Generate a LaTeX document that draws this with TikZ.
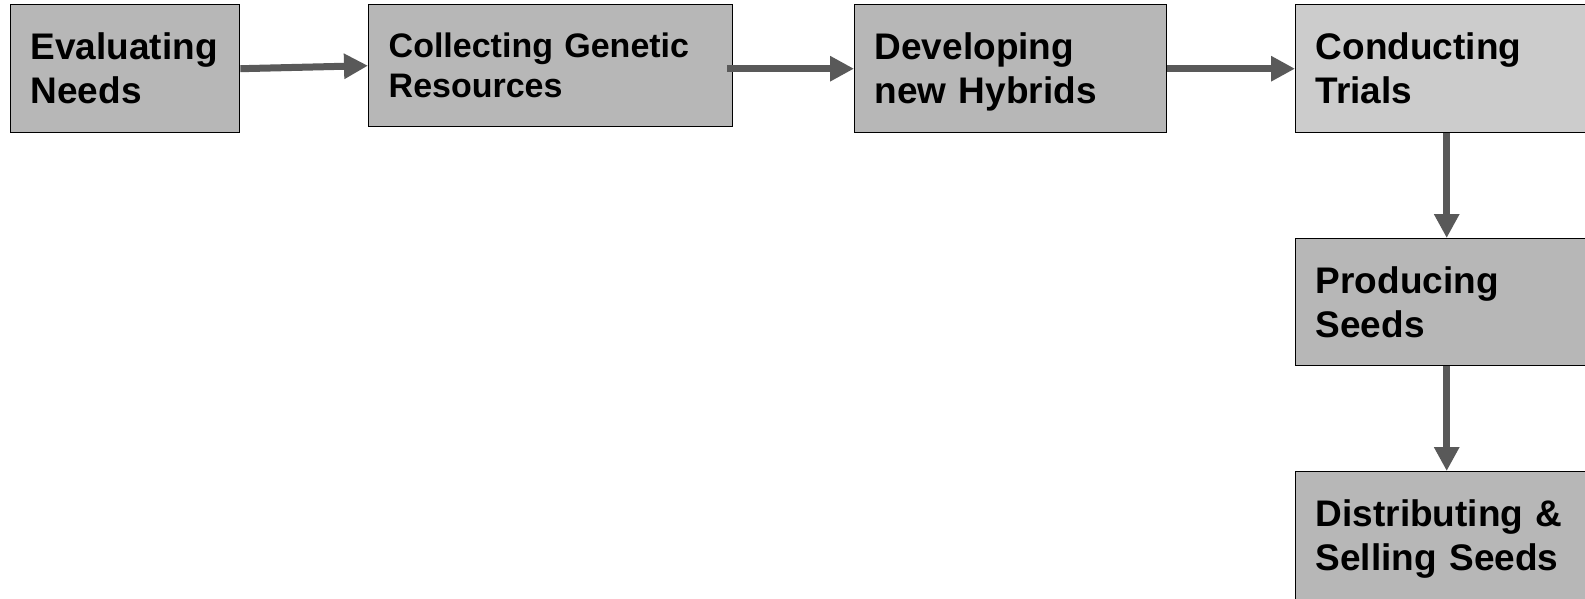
\documentclass[tikz,border=0pt]{standalone}
\usepackage{fontspec}
\setmainfont{Liberation Sans}
\usetikzlibrary{arrows.meta}
\definecolor{boxfill}{HTML}{B7B7B7}
\definecolor{boxlight}{HTML}{CCCCCC}
\definecolor{arrowgray}{HTML}{595959}
\tikzset{
  stepbox/.style={draw=black, line width=1.4pt, fill=boxfill, anchor=north west,
    align=left, inner xsep=20pt, inner ysep=0pt, text height=27pt, text depth=45pt,
    font=\bfseries\fontsize{37}{44}\selectfont},
  flow/.style={draw=arrowgray, line width=7pt,
    -{Triangle[length=24pt,width=24pt]}, arrowgray}
}
\begin{document}
\begin{tikzpicture}[x=1pt,y=-1pt]
\clip (0,0) rectangle (1585,598);
\fill[white] (0,0) rectangle (1585,598);
\node[stepbox, text width=189pt, minimum height=128pt] (eval) at (10,4) {Evaluating\\Needs};
\node[stepbox, text width=324pt, minimum height=122pt, text height=25pt, text depth=41pt, font=\bfseries\fontsize{34}{40}\selectfont] (coll) at (368,4) {Collecting Genetic\\Resources};
\node[stepbox, text width=272pt, minimum height=128pt] (dev) at (854,4) {Developing\\new Hybrids};
\node[stepbox, fill=boxlight, text width=262pt, minimum height=128pt] (cond) at (1295,4) {Conducting\\Trials};
\node[stepbox, text width=262pt, minimum height=127pt] (prod) at (1295,238) {Producing\\Seeds};
\node[stepbox, text width=262pt, minimum height=128pt] (dist) at (1295,471) {Distributing \&\\Selling Seeds};
\draw[flow] (eval.east) -- (coll.west);
\draw[flow] ([xshift=-6pt]coll.east |- dev.west) -- (dev.west);
\draw[flow] (dev.east) -- (cond.west);
\draw[flow] (cond.south) -- (prod.north);
\draw[flow] (prod.south) -- (dist.north);
\end{tikzpicture}
\end{document}
